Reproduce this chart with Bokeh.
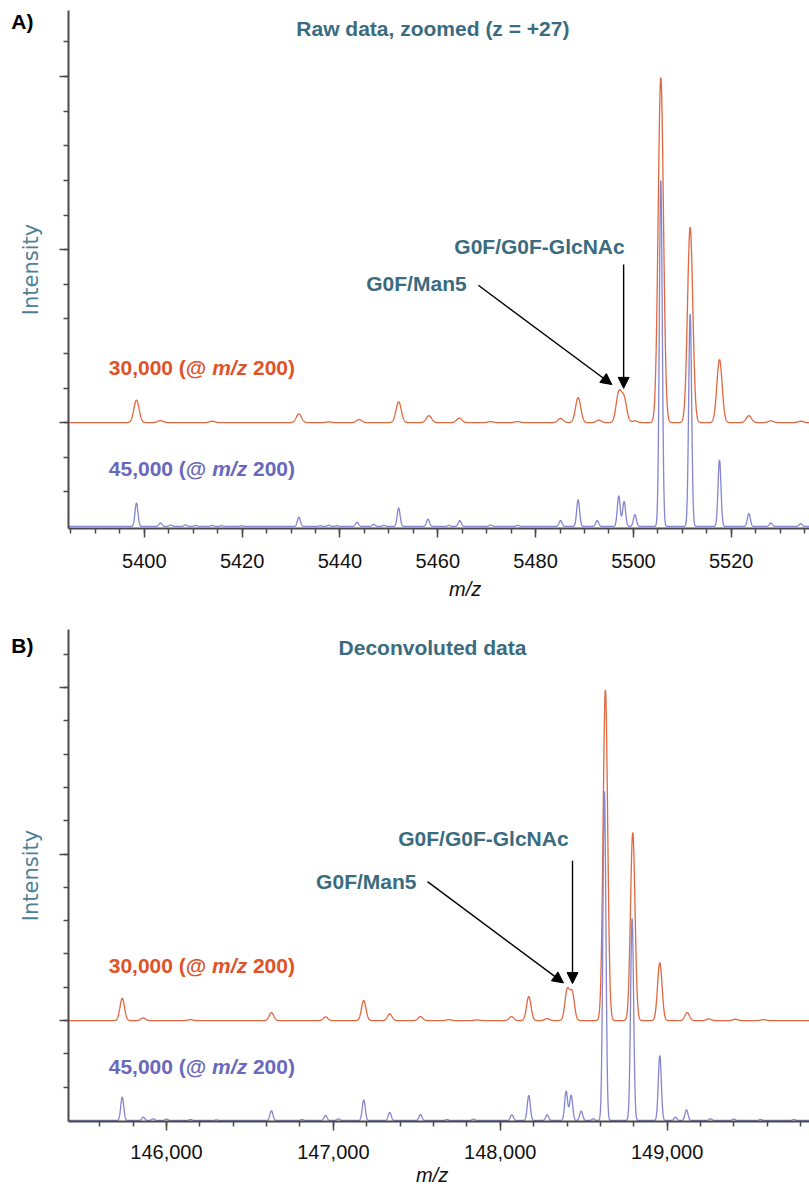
import numpy as np
from bokeh.plotting import figure
from bokeh.layouts import column
from bokeh.models import (Range1d, FixedTicker, SingleIntervalTicker, NumeralTickFormatter,
                          BasicTickFormatter, CustomJSTickFormatter, LinearAxis, Label, Arrow,
                          NormalHead, ColumnDataSource)
from bokeh.embed import file_html
from bokeh.resources import INLINE

# ---------------- data ----------------
# Panel A: raw data, zoomed (z = +27); peak positions (m/z) and intensities (axis tick units)
RAW_MZ_30K = [5398.4, 5403.3, 5413.9, 5431.6, 5437.7, 5443.9, 5452.0, 5458.2, 5464.4, 5470.8,
              5476.3, 5485.1, 5488.7, 5492.9, 5497.0, 5498.1, 5500.3, 5505.6, 5511.6, 5517.6,
              5523.6, 5528.1, 5534.2]
RAW_INT_30K = [0.65, 0.06, 0.04, 0.25, 0.02, 0.09, 0.60, 0.20, 0.13, 0.03,
               0.03, 0.12, 0.72, 0.07, 0.84, 0.68, 0.05, 9.97, 5.65, 1.82,
               0.20, 0.05, 0.04]
RAW_MZ_45K = [5398.4, 5403.3, 5405.4, 5408.4, 5410.5, 5413.9, 5415.8, 5419.9, 5431.6, 5436.0,
              5437.7, 5439.4, 5443.5, 5446.9, 5449.0, 5452.0, 5458.0, 5462.3, 5464.5, 5470.8,
              5476.3, 5485.1, 5488.7, 5492.6, 5497.0, 5498.1, 5500.3, 5505.6, 5511.6, 5517.6,
              5523.6, 5528.1, 5534.2]
RAW_INT_45K = [0.68, 0.10, 0.04, 0.04, 0.03, 0.03, 0.02, 0.02, 0.27, 0.02,
               0.03, 0.02, 0.12, 0.06, 0.03, 0.53, 0.21, 0.03, 0.17, 0.04,
               0.03, 0.17, 0.77, 0.17, 0.88, 0.72, 0.34, 10.0, 6.14, 1.92,
               0.37, 0.10, 0.08]

# Panel B: deconvoluted data; masses and intensities
DEC_MASS_30K = [145735, 145861, 146144, 146629, 146953, 147182, 147338, 147522, 147692, 147862,
                148067, 148171, 148281, 148401, 148431, 148630, 148794, 148956, 149120, 149249,
                149409, 149579]
DEC_INT_30K = [0.67, 0.08, 0.03, 0.24, 0.11, 0.60, 0.20, 0.12, 0.03, 0.02,
               0.12, 0.72, 0.06, 0.90, 0.83, 9.93, 5.65, 1.74, 0.24, 0.05,
               0.04, 0.03]
DEC_MASS_45K = [145735, 145861, 145920, 146000, 146144, 146300, 146629, 146812, 146953, 147030,
                147182, 147338, 147522, 147680, 147840, 148070, 148171, 148281, 148395, 148425,
                148485, 148557, 148624, 148790, 148956, 149050, 149116, 149260, 149399, 149559,
                149759]
DEC_INT_45K = [0.70, 0.10, 0.05, 0.04, 0.03, 0.02, 0.29, 0.03, 0.15, 0.05,
               0.62, 0.24, 0.18, 0.03, 0.04, 0.17, 0.75, 0.17, 0.88, 0.76,
               0.28, 0.05, 9.90, 6.07, 1.95, 0.10, 0.32, 0.05, 0.04, 0.03,
               0.03]

Y_MAJOR = [3, 8, 13]
Y_MINOR = [1, 2, 3, 4, 5, 6, 7, 8, 9, 10, 11, 12, 13, 14]
OFFSET_30K = 3.0   # vertical offset of the 30,000 trace
OFFSET_45K = 0.0

# ---------------- style ----------------
ORANGE_LINE = "#e2683f"
BLUE_LINE = "#8585d0"
ORANGE_TXT = "#de5329"
BLUE_TXT = "#6868bd"
TEAL = "#3a6b7e"
AXIS_C = "#4a4a4a"
FONT = "Liberation Sans"


def profile(grid, centers, heights, sigma, base):
    y = np.full_like(grid, base, dtype=float)
    for c, h in zip(centers, heights):
        y += h * np.exp(-0.5 * ((grid - c) / sigma) ** 2)
    return y


def style_fig(p, xticker, panel_tag, tag_y, mz_x, tick_standoff, mz_standoff):
    p.background_fill_color = "white"
    p.border_fill_color = "white"
    p.outline_line_color = None
    p.xgrid.visible = False
    p.ygrid.visible = False
    for ax in (p.xaxis[0], p.yaxis[0]):
        ax.axis_line_color = AXIS_C
        ax.axis_line_width = 2
        ax.major_tick_line_color = AXIS_C
        ax.minor_tick_line_color = AXIS_C
        ax.major_tick_line_width = 1.5
        ax.minor_tick_line_width = 1.5
        ax.major_tick_in = 0
        ax.minor_tick_in = 0
        ax.major_tick_out = 9
        ax.minor_tick_out = 5
    xa = p.xaxis[0]
    xa.ticker = xticker
    xa.major_label_text_font = FONT
    xa.major_label_text_font_size = "20px"
    xa.major_label_text_color = "#111111"
    xa.major_label_standoff = tick_standoff
    ya = p.yaxis[0]
    ya.ticker = FixedTicker(ticks=Y_MAJOR, minor_ticks=Y_MINOR)
    ya.formatter = CustomJSTickFormatter(code="return ''")
    ya.major_label_standoff = 0

    # outer left axis: carries the panel tag and the "Intensity" title
    tag_axis = LinearAxis(ticker=FixedTicker(ticks=[tag_y]),
                          formatter=CustomJSTickFormatter(code="return '%s'" % panel_tag),
                          axis_line_color=None, major_tick_line_color=None,
                          minor_tick_line_color=None, major_tick_out=0, minor_tick_out=0,
                          major_tick_in=0, minor_tick_in=0, major_label_standoff=26,
                          major_label_text_font=FONT, major_label_text_font_size="21px",
                          major_label_text_font_style="bold", major_label_text_color="black",
                          axis_label="Intensity", axis_label_standoff=-35,
                          axis_label_text_font="DejaVu Sans", axis_label_text_font_style="normal",
                          axis_label_text_font_size="21px", axis_label_text_color="#4d7f95")
    p.add_layout(tag_axis, "left")

    # outer bottom axis: carries the "m/z" title at its place
    mz_axis = LinearAxis(ticker=FixedTicker(ticks=[mz_x]),
                         formatter=CustomJSTickFormatter(code="return 'm/z'"),
                         axis_line_color=None, major_tick_line_color=None,
                         minor_tick_line_color=None, major_tick_out=0, minor_tick_out=0,
                         major_tick_in=0, minor_tick_in=0, major_label_standoff=mz_standoff,
                         major_label_text_font=FONT, major_label_text_font_size="20px",
                         major_label_text_font_style="italic", major_label_text_color="#111111")
    p.add_layout(mz_axis, "below")


def txt(p, x, y, text, color=TEAL, size="21px", style="bold", align="left", x_offset=0, font=FONT):
    p.add_layout(Label(x=x, y=y, text=text, text_font=font, text_font_size=size,
                       text_font_style=style, text_color=color, text_align=align,
                       text_baseline="middle", x_offset=x_offset))


def res_labels(p, x, y30, y45):
    # "30,000 (@ m/z 200)" with italic m/z, split in parts
    for yy, lead, col in ((y30, "30,000 (@", ORANGE_TXT), (y45, "45,000 (@", BLUE_TXT)):
        txt(p, x, yy, lead, color=col)
        txt(p, x, yy, "m/z", color=col, style="bold italic", x_offset=103.4)
        txt(p, x, yy, "200)", color=col, x_offset=144.2)


def arrow(p, xs, ys, xe, ye):
    p.add_layout(Arrow(end=NormalHead(size=11, fill_color="black", line_color="black", line_width=1),
                       x_start=xs, y_start=ys, x_end=xe, y_end=ye,
                       line_color="black", line_width=1.4))


# ---------------- Panel A ----------------
pA = figure(width=809, height=602, x_range=Range1d(5384.5, 5536.0), y_range=Range1d(-0.06, 14.91),
            output_backend="svg", toolbar_location=None,
            min_border_left=68, min_border_right=0, min_border_top=10, min_border_bottom=74)
style_fig(pA, SingleIntervalTicker(interval=20, num_minor_ticks=4), "A)", 14.6, 5465.6, 16, 7)
pA.xaxis[0].formatter = BasicTickFormatter(use_scientific=False)

gridA = np.arange(5384.0, 5536.6, 0.04)
srcA = ColumnDataSource(dict(x=gridA,
                             y30=profile(gridA, RAW_MZ_30K, RAW_INT_30K, 0.54, OFFSET_30K),
                             y45=profile(gridA, RAW_MZ_45K, RAW_INT_45K, 0.30, OFFSET_45K)))
pA.line("x", "y30", source=srcA, line_color=ORANGE_LINE, line_width=1.3)
pA.line("x", "y45", source=srcA, line_color=BLUE_LINE, line_width=1.3)

txt(pA, 5459.0, 14.39, "Raw data, zoomed (z = +27)", align="center")
res_labels(pA, 5392.74, 4.60, 1.67)
txt(pA, 5480.8, 8.09, "G0F/G0F-GlcNAc", align="center")
txt(pA, 5465.9, 7.02, "G0F/Man5", align="right")
arrow(pA, 5468.3, 6.97, 5495.6, 4.10)
arrow(pA, 5498.0, 7.57, 5498.0, 3.99)

# ---------------- Panel B ----------------
pB = figure(width=809, height=586, x_range=Range1d(145413, 149853), y_range=Range1d(-0.03, 14.74),
            output_backend="svg", toolbar_location=None,
            min_border_left=68, min_border_right=0, min_border_top=27, min_border_bottom=67)
style_fig(pB, SingleIntervalTicker(interval=1000, num_minor_ticks=5), "B)", 14.26, 147592, 14, 2)
pB.xaxis[0].formatter = NumeralTickFormatter(format="0,0")

gridB = np.arange(145400.0, 149860.0, 1.5)
srcB = ColumnDataSource(dict(x=gridB,
                             y30=profile(gridB, DEC_MASS_30K, DEC_INT_30K, 13.5, OFFSET_30K),
                             y45=profile(gridB, DEC_MASS_45K, DEC_INT_45K, 9.0, OFFSET_45K)))
pB.line("x", "y30", source=srcB, line_color=ORANGE_LINE, line_width=1.3)
pB.line("x", "y45", source=srcB, line_color=BLUE_LINE, line_width=1.3)

txt(pB, 147594, 14.19, "Deconvoluted data", align="center")
res_labels(pB, 145654, 4.65, 1.62)
txt(pB, 147899, 8.46, "G0F/G0F-GlcNAc", align="center")
txt(pB, 147498, 7.17, "G0F/Man5", align="right")
arrow(pB, 147564, 7.17, 148379, 4.13)
arrow(pB, 148433, 7.80, 148433, 4.11)

layout = column(pA, pB)
open("out.html", "w").write(file_html(layout, INLINE))
